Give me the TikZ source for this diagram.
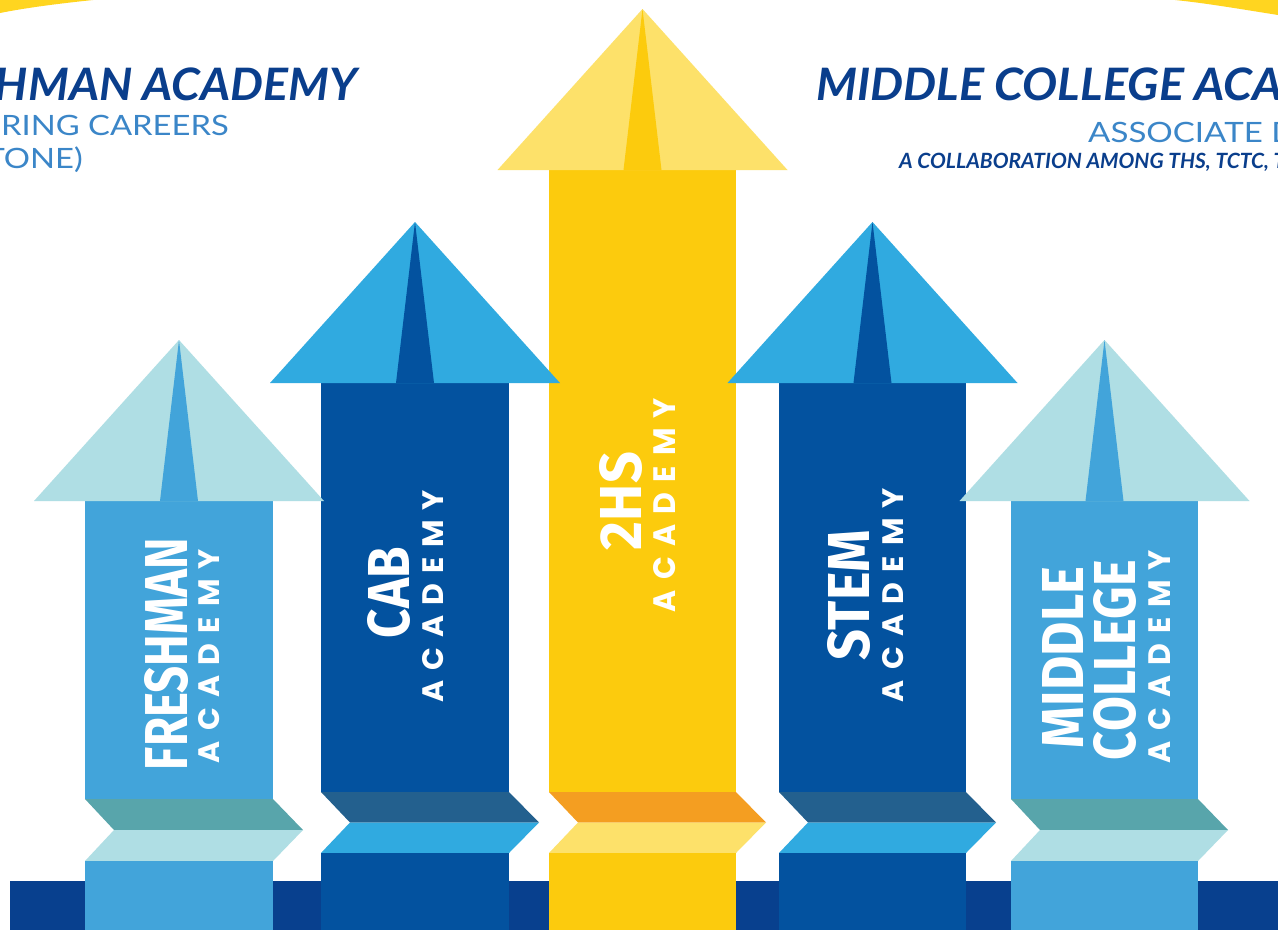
\documentclass[tikz,border=0pt]{standalone}
\usepackage{fontspec}
\setmainfont{Lato}
\newfontfamily\fira{Fira Sans}
\newfontfamily\popp{Poppins}
\definecolor{band}{HTML}{08408E}
\definecolor{fshaft}{HTML}{42A4DA}
\definecolor{fhead}{HTML}{AFDEE4}
\definecolor{fteal}{HTML}{58A5AB}
\definecolor{cshaft}{HTML}{03529F}
\definecolor{chead}{HTML}{30AAE0}
\definecolor{cslate}{HTML}{23608E}
\definecolor{yshaft}{HTML}{FCCB0D}
\definecolor{yhead}{HTML}{FDE16A}
\definecolor{yorange}{HTML}{F49E21}
\definecolor{hblue}{HTML}{0A3E8C}
\definecolor{lblue}{HTML}{3B86C8}
\definecolor{ytop}{HTML}{FFD520}
\newcommand{\acarrow}[9]{%
  \pgfmathsetmacro\ax{(#1+#2)/2}
  \fill[#6] (#1,#3) rectangle (#2,#4);
  \fill[#5] (\ax-145,#3) -- (\ax,#3-161) -- (\ax+145,#3) -- cycle;
  \fill[#6] (\ax-19,#3) -- (\ax,#3-161) -- (\ax+19,#3) -- cycle;
  \fill[#7] (#1,#4) -- (#2,#4) -- (#2+30,#4+#9) -- (#1+29,#4+#9) -- cycle;
  \fill[#8] (#1+29,#4+#9) -- (#2+30,#4+#9) -- (#2,#4+2*#9) -- (#1,#4+2*#9) -- cycle;
  \fill[#6] (#1,#4+2*#9) rectangle (#2,930);
}
\newcommand{\spacedacad}[2]{\resizebox{#1pt}{#2pt}{\popp\bfseries\fontsize{30}{31}\selectfont\makebox[#1pt][s]{A\hfill C\hfill A\hfill D\hfill E\hfill M\hfill Y}}}
\newcommand{\bigtxt}[3]{\resizebox{#1pt}{#2pt}{\fira\bfseries #3}}
\newcommand{\wide}[2]{\scalebox{#1}[1]{#2}}
\tikzset{
  vtext/.style={rotate=90, inner sep=0pt, text=white, anchor=center},
  headline/.style={inner sep=0pt, text=hblue, font=\bfseries\itshape\fontsize{44.7}{50}\selectfont},
  subline/.style={inner sep=0pt, text=lblue, font=\fontsize{28}{30}\selectfont},
  collab/.style={inner sep=0pt, text=hblue, font=\bfseries\itshape\fontsize{21}{24}\selectfont}
}
\begin{document}
\begin{tikzpicture}[x=1pt,y=-1pt]
\useasboundingbox (0,0) rectangle (1278,930);
\clip (0,0) rectangle (1278,930);
\fill[white] (0,0) rectangle (1278,930);
% top yellow arcs
\fill[ytop] (0,0) -- (93,0) .. controls (55,4) and (25,8) .. (0,13) -- cycle;
\fill[ytop] (1175,0) -- (1278,0) -- (1278,15) .. controls (1240,9) and (1205,3) .. (1175,0) -- cycle;
% base band
\fill[band] (10,881) rectangle (1278,930);
% arrows
\acarrow{549}{736}{170}{792}{yhead}{yshaft}{yorange}{yhead}{30.5}
\acarrow{321}{509}{383}{792}{chead}{cshaft}{cslate}{chead}{30.5}
\acarrow{779}{966}{383}{792}{chead}{cshaft}{cslate}{chead}{30.5}
\acarrow{85}{273}{501}{799}{fhead}{fshaft}{fteal}{fhead}{31}
\acarrow{1011}{1198}{501}{799}{fhead}{fshaft}{fteal}{fhead}{31}
% vertical labels
\node[vtext] (fr) at (166.5,654) {\bigtxt{232}{43}{FRESHMAN}};
\node[vtext] (fra) at (209.5,656) {\spacedacad{214}{21}};
\node[vtext] (cab) at (389,592.5) {\bigtxt{91}{42}{CAB}};
\node[vtext] (caba) at (433.5,596) {\spacedacad{212}{21}};
\node[vtext] (hs) at (621,501) {\bigtxt{98}{42}{2HS}};
\node[vtext] (hsa) at (664.5,505) {\spacedacad{214}{22}};
\node[vtext] (stem) at (849,595) {\bigtxt{130}{42}{STEM}};
\node[vtext] (stema) at (893.5,595) {\spacedacad{214}{21}};
\node[vtext] (mid) at (1062.5,657.5) {\bigtxt{181}{41}{MIDDLE}};
\node[vtext] (col) at (1115,660) {\bigtxt{200}{42}{COLLEGE}};
\node[vtext] (mca) at (1160,656.5) {\spacedacad{213}{22}};
% headings
\node[headline, anchor=base east] (fhd) at (358,100) {\wide{1.04}{HMAN ACADEMY}};
\node[subline, anchor=base east] (fs1) at (229,135) {\wide{1.17}{RING CAREERS}};
\node[subline, anchor=base east] (fs2) at (83,168) {\wide{1.17}{TONE)}};
\node[headline, anchor=base west] (mhd) at (816,100) {\wide{1.045}{MIDDLE COLLEGE ACA}};
\node[subline, anchor=base west] (ms1) at (1088,142) {\wide{1.18}{ASSOCIATE D}};
\node[collab, anchor=base west] (ms2) at (899,168) {A COLLABORATION AMONG THS, TCTC, T};
\end{tikzpicture}
\end{document}
